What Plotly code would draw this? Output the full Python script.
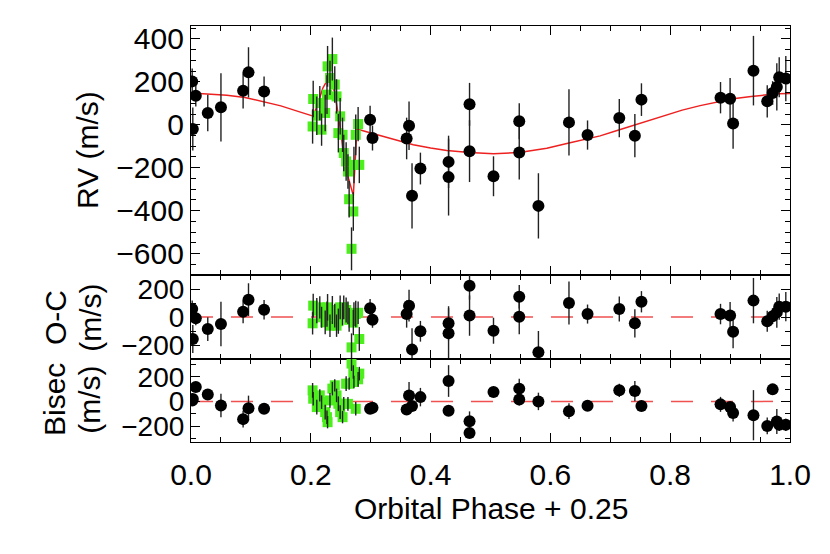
import plotly.graph_objects as go
from plotly.subplots import make_subplots

# Black points: phase, RV, RV error, O-C, bisector, bisector error
phase = [0.002, 0.008, 0.003, 0.028, 0.050, 0.087, 0.096, 0.122, 0.299, 0.303,
         0.360, 0.364, 0.369, 0.383, 0.430, 0.430, 0.465, 0.465, 0.505, 0.548,
         0.548, 0.580, 0.631, 0.662, 0.715, 0.741, 0.752, 0.884, 0.900, 0.905,
         0.939, 0.962, 0.971, 0.978, 0.982, 0.993]
rv = [202, 135, -20, 55, 81, 158, 244, 155, 23, -62,
      -64, -5, -331, -204, -173, -244, 95, -123, -240, 16,
      -129, -378, 11, -48, 31, -51, 117, 126, 121, 6,
      252, 109, 148, 176, 221, 215]
rv_err = [60, 50, 100, 85, 159, 82, 117, 70, 66, 58,
          97, 113, 152, 74, 122, 179, 100, 144, 93, 84,
          126, 152, 154, 68, 89, 101, 76, 73, 97, 118,
          162, 75, 55, 110, 93, 105]
oc = [57, -9, -157, -86, -50, 38, 124, 52, 62, -19,
      21, 81, -233, -102, -45, -116, 224, 10, -98, 145,
      2, -252, 100, 21, 57, -45, 109, 21, 10, -105,
      117, -31, 5, 33, 74, 74]
bis = [8, 117, 20, 57, -33, -144, -55, -60, -60, -51,
       -65, 49, -38, 35, 166, -76, -161, -256, 76, 104,
       16, 0, -79, -35, 90, 84, -38, -24, -46, -95,
       -112, -199, 98, -163, -190, -190]
bis_err = [40, 40, 40, 40, 95, 68, 102, 30, 30, 30,
           40, 109, 30, 75, 129, 40, 80, 40, 30, 80,
           50, 71, 64, 30, 54, 82, 30, 61, 30, 68,
           204, 68, 30, 102, 50, 50]

# Green squares (transit night)
g_phase = [0.203, 0.204, 0.210, 0.215, 0.218, 0.224, 0.227, 0.228, 0.232, 0.236,
           0.240, 0.243, 0.246, 0.249, 0.253, 0.255, 0.259, 0.262, 0.264, 0.268,
           0.271, 0.272, 0.275, 0.279, 0.281]
g_rv = [-8, 120, 42, 101, -23, 55, 140, 272, 218, 306,
        187, 132, -39, 39, -47, -132, -171, -218, -347, -578,
        -404, -187, -47, 3, -187]
g_rv_err = [80, 85, 90, 80, 75, 85, 90, 95, 80, 100,
            85, 80, 90, 85, 80, 85, 90, 80, 85, 100,
            90, 85, 95, 80, 85]
g_oc = [-45, 81, 45, 69, -2, -38, 21, 69, -62, 50,
        10, -62, -30, 69, 21, 69, 50, 30, -20, -217,
        -40, 21, 21, 30, -157]
g_bis = [90, 22, -46, 49, -6, -87, -128, -169, 8, 104,
         131, 49, -19, -87, -128, -19, 144, -20, 144, 308,
         239, 158, -60, 180, 226]
g_bis_err = [60, 55, 60, 50, 55, 60, 55, 50, 60, 55,
             50, 55, 60, 55, 50, 55, 60, 55, 50, 60,
             55, 50, 55, 60, 55]

# Model curve
model_phase = [0.0, 0.03, 0.06, 0.09, 0.12, 0.15, 0.18, 0.204, 0.212, 0.22,
               0.228, 0.234, 0.24, 0.246, 0.25, 0.254, 0.259, 0.263, 0.271, 0.277,
               0.29, 0.316, 0.34, 0.371, 0.40, 0.427, 0.465, 0.505, 0.548, 0.594,
               0.631, 0.66, 0.683, 0.71, 0.741, 0.77, 0.794, 0.82, 0.85, 0.88,
               0.905, 0.935, 0.961, 0.98, 1.0]
model_rv = [148, 144, 137, 127, 108, 88, 61, 40, 100, 170,
            210, 200, 150, 50, -30, -120, -190, -250, -330, -20,
            -30, -51, -70, -93, -108, -120, -129, -135, -129, -109,
            -85, -68, -52, -28, 0, 25, 47, 68, 89, 107,
            121, 132, 140, 144, 145]
zero_line = [0, 0]
zero_phase = [0.0, 1.0]

FONT = "Liberation Sans, Helvetica, Arial, sans-serif"
GREEN = "#4cee1c"
ERR = dict(type="data", thickness=1.4, width=0, color="#222")

fig = make_subplots(rows=3, cols=1, shared_xaxes=True,
                    vertical_spacing=0, row_heights=[249, 84, 83])


def add_panel(row, black_y, black_err, green_y, green_err):
    # green squares first, their error bars drawn over them, then black points
    fig.add_trace(go.Scatter(
        x=g_phase, y=green_y, mode="markers",
        marker=dict(symbol="square", size=10, color=GREEN),
    ), row=row, col=1)
    fig.add_trace(go.Scatter(
        x=g_phase, y=green_y, mode="markers",
        marker=dict(size=1, color="rgba(0,0,0,0)"),
        error_y=dict(array=green_err, **ERR),
    ), row=row, col=1)
    fig.add_trace(go.Scatter(
        x=phase, y=black_y, mode="markers",
        marker=dict(symbol="circle", size=12, color="black"),
        error_y=dict(array=black_err, **ERR),
    ), row=row, col=1)


# RV panel
fig.add_trace(go.Scatter(x=model_phase, y=model_rv, mode="lines",
                         line=dict(color="#ee2020", width=1.5)), row=1, col=1)
add_panel(1, rv, rv_err, g_rv, g_rv_err)

# O-C panel
fig.add_trace(go.Scatter(x=zero_phase, y=zero_line, mode="lines",
                         line=dict(color="#f05050", width=1.5, dash="22px,18px")), row=2, col=1)
add_panel(2, oc, rv_err, g_oc, g_rv_err)

# Bisector panel
fig.add_trace(go.Scatter(x=zero_phase, y=zero_line, mode="lines",
                         line=dict(color="#f05050", width=1.5, dash="22px,18px")), row=3, col=1)
add_panel(3, bis, bis_err, g_bis, g_bis_err)

axis_common = dict(
    showline=True, linecolor="black", linewidth=1.2, mirror="allticks",
    ticks="inside", ticklen=9, tickwidth=1.2, tickcolor="black",
    showgrid=False, zeroline=False,
)
tick_big = dict(family=FONT, size=30, color="black")
tick_small = dict(family=FONT, size=28, color="black")

fig.update_xaxes(range=[0, 1], dtick=0.2, tickformat=".1f", tickfont=tick_big,
                 minor=dict(ticks="inside", dtick=0.05, ticklen=5, tickcolor="black"),
                 **axis_common)
fig.update_xaxes(ticklabelstandoff=6, row=3, col=1)

fig.update_yaxes(range=[-700, 460], tickvals=[-600, -400, -200, 0, 200, 400],
                 tickfont=tick_big,
                 minor=dict(ticks="inside", dtick=50, ticklen=5, tickcolor="black"),
                 row=1, col=1, **axis_common)
fig.update_yaxes(range=[-300, 300], tickvals=[-200, 0, 200], tickfont=tick_small,
                 minor=dict(ticks="inside", dtick=100, ticklen=5, tickcolor="black"),
                 row=2, col=1, **axis_common)
fig.update_yaxes(range=[-330, 345], tickvals=[-200, 0, 200], tickfont=tick_small,
                 minor=dict(ticks="inside", dtick=100, ticklen=5, tickcolor="black"),
                 row=3, col=1, **axis_common)

title_font = dict(family=FONT, size=30, color="black")
labels = [
    ("RV (m/s)", -0.172, 0.702),
    ("O-C", -0.227, 0.298),
    ("(m/s)", -0.169, 0.298),
    ("Bisec", -0.227, 0.101),
    ("(m/s)", -0.169, 0.101),
]
for text, xp, yp in labels:
    fig.add_annotation(text=text, xref="paper", yref="paper", x=xp, y=yp,
                       xanchor="center", yanchor="middle", textangle=-90,
                       showarrow=False, font=title_font)
fig.add_annotation(text="Orbital Phase + 0.25", xref="paper", yref="paper",
                   x=0.5, y=-0.161, xanchor="center", yanchor="middle",
                   showarrow=False, font=title_font)

# page body adds 8px, margins compensate so the frame lands where the reference has it
fig.update_layout(
    width=830, height=554,
    margin=dict(l=183, r=48, t=18, b=120),
    paper_bgcolor="white", plot_bgcolor="white",
    showlegend=False,
)

fig.write_html("out.html")
